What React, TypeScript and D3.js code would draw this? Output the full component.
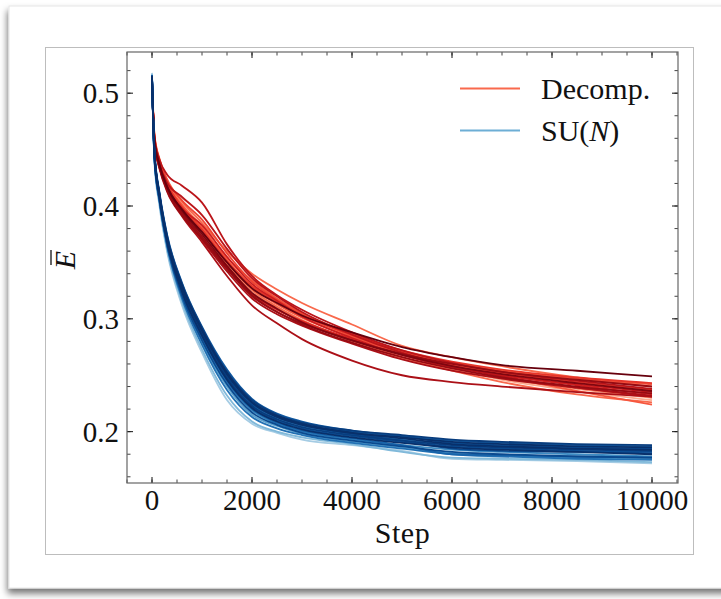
import React from "react";
import * as d3 from "d3";

const steps = [0, 50, 150, 300, 600, 1000, 1500, 2000, 2500, 3000, 4000, 5000, 6000, 7000, 8500, 10000];

const decompRuns: number[][] = [
  [0.510, 0.462, 0.440, 0.422, 0.402, 0.382, 0.352, 0.330, 0.314, 0.302, 0.284, 0.269, 0.256, 0.246, 0.236, 0.228],
  [0.508, 0.458, 0.437, 0.418, 0.398, 0.378, 0.350, 0.326, 0.311, 0.299, 0.281, 0.266, 0.254, 0.244, 0.233, 0.226],
  [0.509, 0.460, 0.438, 0.420, 0.400, 0.380, 0.354, 0.334, 0.318, 0.305, 0.287, 0.271, 0.259, 0.249, 0.236, 0.224],
  [0.511, 0.459, 0.436, 0.417, 0.395, 0.372, 0.346, 0.322, 0.308, 0.298, 0.282, 0.268, 0.258, 0.250, 0.241, 0.233],
  [0.512, 0.463, 0.442, 0.424, 0.404, 0.385, 0.360, 0.340, 0.326, 0.314, 0.295, 0.276, 0.266, 0.258, 0.248, 0.240],
  [0.507, 0.457, 0.437, 0.421, 0.408, 0.392, 0.362, 0.336, 0.320, 0.306, 0.286, 0.270, 0.258, 0.249, 0.239, 0.231],
  [0.510, 0.461, 0.439, 0.419, 0.397, 0.376, 0.348, 0.325, 0.310, 0.298, 0.280, 0.265, 0.255, 0.247, 0.238, 0.230],
  [0.512, 0.456, 0.434, 0.415, 0.393, 0.370, 0.342, 0.318, 0.304, 0.294, 0.278, 0.264, 0.254, 0.247, 0.239, 0.232],
  [0.509, 0.462, 0.441, 0.423, 0.405, 0.388, 0.358, 0.333, 0.317, 0.304, 0.285, 0.270, 0.259, 0.252, 0.244, 0.237],
  [0.508, 0.456, 0.434, 0.416, 0.398, 0.383, 0.355, 0.331, 0.316, 0.302, 0.283, 0.268, 0.257, 0.250, 0.242, 0.235],
  [0.511, 0.458, 0.436, 0.416, 0.394, 0.373, 0.345, 0.321, 0.306, 0.295, 0.279, 0.266, 0.256, 0.248, 0.240, 0.234],
  [0.510, 0.460, 0.438, 0.420, 0.399, 0.379, 0.351, 0.329, 0.315, 0.303, 0.286, 0.272, 0.262, 0.255, 0.248, 0.243],
  [0.510, 0.460, 0.441, 0.428, 0.418, 0.403, 0.366, 0.338, 0.321, 0.308, 0.288, 0.272, 0.261, 0.253, 0.245, 0.238],
  [0.511, 0.459, 0.437, 0.418, 0.396, 0.375, 0.347, 0.323, 0.309, 0.297, 0.281, 0.268, 0.258, 0.251, 0.243, 0.236],
  [0.509, 0.461, 0.440, 0.421, 0.401, 0.381, 0.352, 0.328, 0.313, 0.301, 0.284, 0.270, 0.261, 0.254, 0.247, 0.242],
  [0.508, 0.455, 0.433, 0.413, 0.391, 0.368, 0.338, 0.312, 0.296, 0.282, 0.263, 0.250, 0.244, 0.240, 0.235, 0.231],
  [0.510, 0.457, 0.435, 0.414, 0.392, 0.371, 0.344, 0.320, 0.306, 0.296, 0.281, 0.269, 0.260, 0.253, 0.246, 0.240],
  [0.512, 0.458, 0.436, 0.417, 0.397, 0.377, 0.350, 0.327, 0.314, 0.303, 0.288, 0.275, 0.266, 0.259, 0.254, 0.249],
];
// colormap position (0..1) of each Decomp. run, same order as decompRuns
const decompShade = [0.3, 0.5, 0.55, 0.7, 0.5, 0.8, 0.4, 0.85, 0.6, 0.75, 0.9, 0.65, 0.8, 0.95, 0.55, 0.85, 0.9, 1.0];

const suRuns: number[][] = [
  [0.518, 0.438, 0.400, 0.360, 0.312, 0.270, 0.228, 0.207, 0.199, 0.193, 0.188, 0.183, 0.176, 0.175, 0.174, 0.172],
  [0.517, 0.440, 0.402, 0.362, 0.315, 0.273, 0.232, 0.209, 0.200, 0.195, 0.189, 0.182, 0.177, 0.176, 0.175, 0.173],
  [0.516, 0.441, 0.404, 0.365, 0.318, 0.277, 0.237, 0.213, 0.203, 0.197, 0.190, 0.185, 0.180, 0.178, 0.176, 0.175],
  [0.515, 0.443, 0.406, 0.366, 0.320, 0.279, 0.240, 0.215, 0.205, 0.198, 0.191, 0.186, 0.181, 0.179, 0.177, 0.176],
  [0.516, 0.442, 0.405, 0.367, 0.321, 0.281, 0.242, 0.217, 0.206, 0.199, 0.192, 0.187, 0.182, 0.180, 0.178, 0.177],
  [0.515, 0.444, 0.407, 0.368, 0.323, 0.283, 0.244, 0.219, 0.207, 0.200, 0.193, 0.188, 0.184, 0.182, 0.180, 0.178],
  [0.514, 0.441, 0.405, 0.366, 0.322, 0.284, 0.245, 0.220, 0.208, 0.201, 0.194, 0.188, 0.180, 0.179, 0.178, 0.177],
  [0.515, 0.445, 0.408, 0.369, 0.324, 0.285, 0.246, 0.221, 0.209, 0.202, 0.195, 0.190, 0.186, 0.184, 0.182, 0.180],
  [0.516, 0.443, 0.406, 0.368, 0.325, 0.286, 0.247, 0.222, 0.210, 0.203, 0.196, 0.191, 0.187, 0.185, 0.183, 0.182],
  [0.514, 0.446, 0.409, 0.370, 0.326, 0.287, 0.248, 0.223, 0.211, 0.204, 0.197, 0.192, 0.188, 0.186, 0.184, 0.183],
  [0.515, 0.444, 0.408, 0.371, 0.327, 0.288, 0.249, 0.224, 0.212, 0.205, 0.198, 0.193, 0.189, 0.187, 0.185, 0.184],
  [0.514, 0.447, 0.410, 0.372, 0.328, 0.289, 0.250, 0.225, 0.213, 0.206, 0.198, 0.192, 0.185, 0.183, 0.182, 0.181],
  [0.515, 0.445, 0.409, 0.371, 0.329, 0.290, 0.251, 0.226, 0.214, 0.207, 0.199, 0.195, 0.191, 0.189, 0.187, 0.186],
  [0.514, 0.446, 0.410, 0.373, 0.330, 0.291, 0.252, 0.227, 0.214, 0.207, 0.200, 0.196, 0.192, 0.190, 0.188, 0.187],
  [0.513, 0.447, 0.411, 0.374, 0.331, 0.292, 0.253, 0.228, 0.215, 0.208, 0.201, 0.197, 0.193, 0.191, 0.189, 0.188],
  [0.514, 0.448, 0.412, 0.375, 0.332, 0.293, 0.255, 0.229, 0.216, 0.209, 0.201, 0.196, 0.190, 0.188, 0.186, 0.185],
  [0.515, 0.446, 0.410, 0.372, 0.329, 0.290, 0.252, 0.226, 0.213, 0.206, 0.199, 0.194, 0.189, 0.187, 0.185, 0.184],
];
// colormap position (0..1) of each SU(N) run, same order as suRuns
const suShade = [0.35, 0.45, 0.75, 0.55, 0.9, 0.65, 0.8, 1.0, 0.85, 0.95, 0.7, 0.9, 1.0, 0.8, 0.95, 0.85, 1.0];

const xTicks = [0, 2000, 4000, 6000, 8000, 10000];
const yTicks = [0.2, 0.3, 0.4, 0.5];
const legendLabels = ["Decomp.", "SU(N)"];

const W = 721;
const H = 599;
const left = 127, right = 678, top = 52, bottom = 483;
const FONT = "'Liberation Serif', 'Times New Roman', serif";
const FS = 29;

export default function App() {
  const x = d3.scaleLinear().domain([-500, 10520]).range([left, right]);
  const y = d3.scaleLinear().domain([0.1545, 0.5365]).range([bottom, top]);
  const line = d3
    .line<number>()
    .x((_, i) => x(steps[i]))
    .y((d) => y(d))
    .curve(d3.curveMonotoneX);

  const redOrder = d3.range(decompRuns.length).sort((a, b) => decompShade[a] - decompShade[b]);
  const blueOrder = d3.range(suRuns.length).sort((a, b) => suShade[a] - suShade[b]);

  const xMinor = d3.range(-500, 10501, 500);
  const yMinor = d3.range(0.16, 0.5365, 0.02);

  const tickCol = "#111";
  return (
    <svg width={W} height={H} style={{ position: "absolute", left: 0, top: 0, display: "block" }}>
      <defs>
        <filter id="shadow" x="-5%" y="-5%" width="115%" height="115%">
          <feDropShadow dx="-1" dy="5" stdDeviation="3.5" floodColor="#000" floodOpacity="0.55" />
        </filter>
        <clipPath id="plotclip">
          <rect x={left} y={top} width={right - left} height={bottom - top} />
        </clipPath>
      </defs>
      <rect x={0} y={0} width={W} height={H} fill="#fff" />
      <rect x={9} y={6} width={740} height={582} fill="#fff" stroke="#e6e6e6" strokeWidth={1} filter="url(#shadow)" />
      <rect x={45.5} y={47.5} width={648} height={507} fill="#fff" stroke="#bdbdbd" strokeWidth={1} />

      <g clipPath="url(#plotclip)">
        {redOrder.map((i) => (
          <path key={"r" + i} d={line(decompRuns[i]) || ""} fill="none" stroke={d3.interpolateReds(decompShade[i])} strokeWidth={1.8} />
        ))}
        {blueOrder.map((i) => (
          <path key={"b" + i} d={line(suRuns[i]) || ""} fill="none" stroke={d3.interpolateBlues(suShade[i])} strokeWidth={1.8} />
        ))}
      </g>

      {xMinor.map((t) => (
        <g key={"xm" + t}>
          <line x1={x(t)} x2={x(t)} y1={bottom} y2={bottom - 3.5} stroke={tickCol} strokeWidth={0.8} />
          <line x1={x(t)} x2={x(t)} y1={top} y2={top + 3.5} stroke={tickCol} strokeWidth={0.8} />
        </g>
      ))}
      {yMinor.map((t) => (
        <g key={"ym" + t}>
          <line x1={left} x2={left + 3.5} y1={y(t)} y2={y(t)} stroke={tickCol} strokeWidth={0.8} />
          <line x1={right} x2={right - 3.5} y1={y(t)} y2={y(t)} stroke={tickCol} strokeWidth={0.8} />
        </g>
      ))}
      {xTicks.map((t) => (
        <g key={"xt" + t}>
          <line x1={x(t)} x2={x(t)} y1={bottom} y2={bottom - 6} stroke={tickCol} strokeWidth={1} />
          <line x1={x(t)} x2={x(t)} y1={top} y2={top + 6} stroke={tickCol} strokeWidth={1} />
          <text x={x(t)} y={510} textAnchor="middle" fontFamily={FONT} fontSize={FS} fill="#111">
            {t}
          </text>
        </g>
      ))}
      {yTicks.map((t) => (
        <g key={"yt" + t}>
          <line x1={left} x2={left + 6} y1={y(t)} y2={y(t)} stroke={tickCol} strokeWidth={1} />
          <line x1={right} x2={right - 6} y1={y(t)} y2={y(t)} stroke={tickCol} strokeWidth={1} />
          <text x={119} y={y(t) + 10} textAnchor="end" fontFamily={FONT} fontSize={FS} fill="#111">
            {t.toFixed(1)}
          </text>
        </g>
      ))}

      <rect x={left} y={top} width={right - left} height={bottom - top} fill="none" stroke="#666" strokeWidth={1.2} />

      <text x={(left + right) / 2} y={543} textAnchor="middle" fontFamily={FONT} fontSize={30} letterSpacing={0.6} fill="#111">
        Step
      </text>
      <g transform="translate(75,260) rotate(-90)">
        <text x={0} y={0} textAnchor="middle" fontFamily={FONT} fontSize={30} fontStyle="italic" fill="#111">
          E
        </text>
        <line x1={-5} x2={10} y1={-24} y2={-24} stroke="#111" strokeWidth={1.3} />
      </g>

      <line x1={460} x2={520} y1={88.5} y2={88.5} stroke={d3.interpolateReds(0.5)} strokeWidth={2} />
      <text x={541} y={99} fontFamily={FONT} fontSize={30} fill="#111">
        {legendLabels[0]}
      </text>
      <line x1={460} x2={520} y1={130.5} y2={130.5} stroke={d3.interpolateBlues(0.5)} strokeWidth={2} />
      <text x={541} y={141} fontFamily={FONT} fontSize={30} fill="#111">
        SU(<tspan fontStyle="italic">N</tspan>)
      </text>
    </svg>
  );
}
